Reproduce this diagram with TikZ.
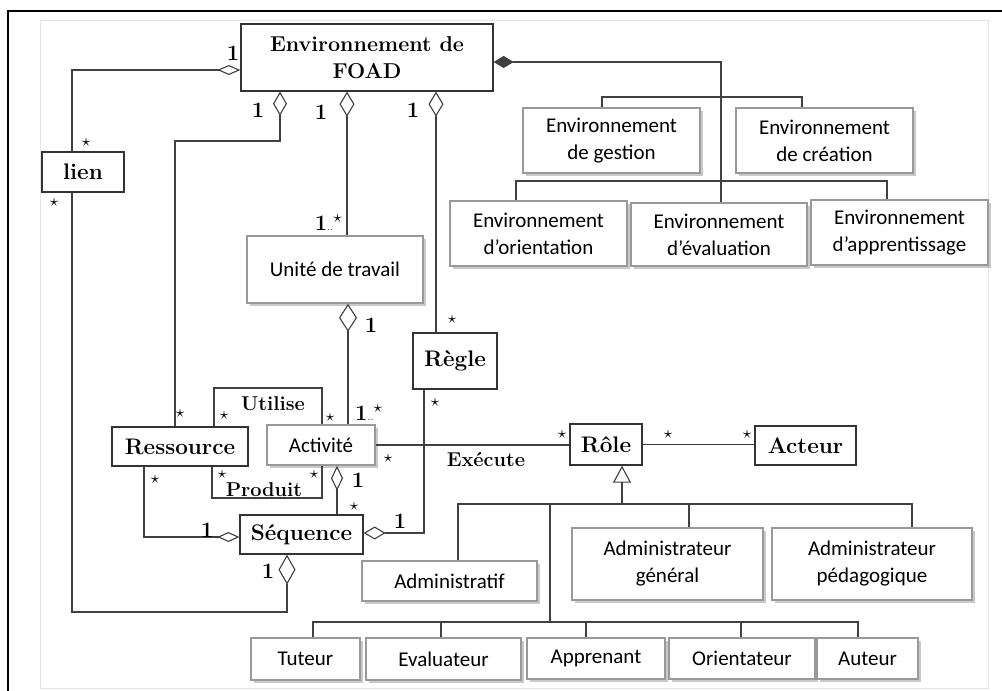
\documentclass[tikz,border=0pt]{standalone}
\usepackage{fontspec}
\newfontfamily\calib{Carlito}
\usetikzlibrary{arrows.meta,shadows}
\newcommand\mystar{\scalebox{1.7}{$\star$}}
\begin{document}
\begin{tikzpicture}[x=1pt,y=-1pt,
  line/.style={draw=black!75, line width=1.1pt},
  sbox/.style={draw=black!80, line width=1.3pt, fill=white, inner sep=0pt, font=\fontsize{22.5}{25}\selectfont\bfseries, align=center},
  gbox/.style={draw=black!40, line width=1.5pt, fill=white, inner sep=0pt, font=\calib\fontsize{21}{27}\selectfont, align=center, drop shadow={shadow xshift=2.5pt, shadow yshift=-2.5pt, opacity=0.35, fill=black!60}},
  lab/.style={font=\fontsize{20}{22}\selectfont\bfseries, inner sep=0pt},
  one/.style={font=\fontsize{22}{24}\selectfont\bfseries, inner sep=0pt},
  st/.style={font=\fontsize{10}{10}\selectfont, inner sep=0pt},
]
\useasboundingbox (0,0) rectangle (1002,691);
\fill[white] (0,0) rectangle (1002,691);
\draw[black!10, line width=0.8pt] (40,20) rectangle (988,688);
\draw[black, line width=2pt] (8,691) -- (8,11) -- (1002,11);

% serif boxes
\node[sbox, minimum width=252pt, minimum height=67pt, font=\fontsize{21.5}{27}\selectfont\bfseries] (foad) at (367,57.5) {Environnement de\\FOAD};
\node[sbox, minimum width=82pt, minimum height=40pt] (lien) at (83,172) {lien};
\node[sbox, minimum width=84pt, minimum height=56pt] (regle) at (455,361) {Règle};
\node[sbox, minimum width=136pt, minimum height=39pt] (ress) at (180,446.5) {Ressource};
\node[sbox, minimum width=123pt, minimum height=39pt] (seq) at (301.5,534.5) {Séquence};
\node[sbox, minimum width=72pt, minimum height=41pt] (role) at (606,444.5) {Rôle};
\node[sbox, minimum width=101pt, minimum height=39pt] (acteur) at (805.5,445.5) {Acteur};

% sans boxes
\node[gbox, minimum width=177pt, minimum height=65pt] (gestion) at (611.5,140.5) {Environnement\\de gestion};
\node[gbox, minimum width=177pt, minimum height=65pt] (creation) at (824.5,140.5) {Environnement\\de création};
\node[gbox, minimum width=177pt, minimum height=65pt] (orient) at (538.5,233.5) {Environnement\\d’orientation};
\node[gbox, minimum width=176pt, minimum height=63pt] (eval) at (719,234.5) {Environnement\\d’évaluation};
\node[gbox, minimum width=177pt, minimum height=65pt] (appr) at (899.5,232.5) {Environnement\\d’apprentissage};
\node[gbox, minimum width=176pt, minimum height=67pt] (unite) at (335,269.5) {Unité de travail};
\node[gbox, minimum width=108pt, minimum height=40pt] (activite) at (321,445) {Activité};
\node[gbox, minimum width=175pt, minimum height=40pt] (admin) at (449.5,581) {Administratif};
\node[gbox, minimum width=191pt, minimum height=72pt] (adgen) at (667.5,564) {Administrateur\\général};
\node[gbox, minimum width=200pt, minimum height=72pt] (adped) at (872,564) {Administrateur\\pédagogique};
\node[gbox, minimum width=109pt, minimum height=42pt] (tuteur) at (305.5,659) {Tuteur};
\node[gbox, minimum width=155pt, minimum height=42pt] (evalr) at (443.5,659) {Evaluateur};
\node[gbox, minimum width=138pt, minimum height=41pt] (appren) at (596,658.5) {Apprenant};
\node[gbox, minimum width=146pt, minimum height=41pt] (orientr) at (742,658.5) {Orientateur};
\node[gbox, minimum width=101pt, minimum height=41pt] (auteur) at (867.5,658.5) {Auteur};

% connectors
\draw[line,-{Diamond[open,length=23pt,width=10pt]}] (lien.north -| 72,0) |- (foad.west |- 0,70);
\draw[line,-{Diamond[open,length=30pt,width=17pt]}] (lien.south -| 72,0) |- (287,612) -- (seq.south -| 287,0);
\draw[line,-{Diamond[open,length=24pt,width=14pt]}] (ress.north -| 175,0) |- (280,141) -- (foad.south -| 280,0);
\draw[line,-{Diamond[open,length=25pt,width=15pt]}] (unite.north -| 347,0) -- (foad.south -| 347,0);
\draw[line,-{Diamond[open,length=25pt,width=15pt]}] (regle.north -| 436,0) -- (foad.south -| 436,0);
\draw[line,{Diamond[length=20pt,width=12pt]}-] (foad.east |- 0,62) -| (eval.north -| 721,0);
\draw[line] (gestion.north -| 602,0) -- (602,97) -| (creation.north -| 802,0);
\draw[line] (orient.north -| 516,0) -- (516,181) -| (appr.north -| 887,0);
\draw[line,-{Diamond[open,length=28pt,width=18pt]}] (activite.north -| 348,0) -- (unite.south -| 348,0);
\draw[line] (ress.north -| 214,0) |- (322,388) -- (activite.north -| 322,0);
\draw[line] (ress.south -| 212,0) |- (322,498) -- (activite.south -| 322,0);
\draw[line,-{Diamond[open,length=22pt,width=10pt]}] (ress.south -| 144,0) |- (seq.west |- 0,537);
\draw[line,-{Diamond[open,length=25pt,width=12pt]}] (seq.north -| 337,0) -- (activite.south -| 337,0);
\draw[line,-{Diamond[open,length=22pt,width=13pt]}] (regle.south -| 424,0) |- (seq.east |- 0,533);
\draw[line] (activite.east) -- (role.west |- activite.east);
\draw[line] (role.east) -- (acteur.west |- role.east);
\draw[line,-{Triangle[open,length=17pt,width=18pt]}] (622,504) -- (role.south -| 622,0);
\draw[line] (admin.north -| 458,0) -- (458,504) -| (adped.north -| 912,0);
\draw[line] (689,504) -- (adgen.north -| 689,0);
\draw[line] (550,504) -- (550,622);
\draw[line] (tuteur.north -| 313,0) -- (313,622) -| (auteur.north -| 858,0);
\draw[line] (441,622) -- (evalr.north -| 441,0);
\draw[line] (586,622) -- (appren.north -| 586,0);
\draw[line] (741,622) -- (orientr.north -| 741,0);

% multiplicities and labels
\node[one] at (233,53) {1};
\node[st] at (86,143) {\mystar};
\node[st] at (54,203) {\mystar};
\node[one] at (258,110) {1};
\node[one] at (321,112) {1};
\node[one] at (413,110) {1};
\node[st] at (180,414) {\mystar};
\node[one, anchor=base east] at (342,230) {1\textmd{\fontsize{11}{11}\selectfont..}\raisebox{8pt}{\fontsize{10}{10}\selectfont\mystar}};
\node[st] at (452,320) {\mystar};
\node[one] at (371,325) {1};
\node[one, anchor=base west] at (355,420) {1\textmd{\fontsize{11}{11}\selectfont..}\raisebox{8pt}{\fontsize{10}{10}\selectfont\mystar}};
\node[lab] at (273,404) {Utilise};
\node[st] at (224,416) {\mystar};
\node[st] at (330,418) {\mystar};
\node[lab] at (264,490) {Produit};
\node[st] at (222,475) {\mystar};
\node[st] at (314,475) {\mystar};
\node[st] at (155,480) {\mystar};
\node[one] at (207,530) {1};
\node[one] at (358,480) {1};
\node[st] at (354,507) {\mystar};
\node[one] at (400,521) {1};
\node[st] at (435,403) {\mystar};
\node[st] at (388,459) {\mystar};
\node[lab] at (486,460) {Exécute};
\node[st] at (562,435) {\mystar};
\node[st] at (668,435) {\mystar};
\node[st] at (747,435) {\mystar};
\node[one] at (268,571) {1};
\end{tikzpicture}
\end{document}
